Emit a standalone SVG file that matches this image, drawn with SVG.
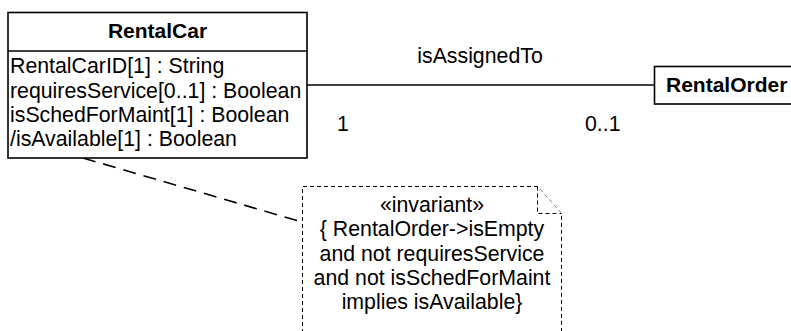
<svg xmlns="http://www.w3.org/2000/svg" width="791" height="331" viewBox="0 0 791 331">
<style>
text{font-family:"Liberation Sans",Arial,sans-serif;font-size:21.3px;fill:#000}
.b{font-weight:bold;font-size:21px}
.box{fill:#fff;stroke:#000;stroke-width:1.6}
.note{fill:#fff;stroke:#000;stroke-width:1;stroke-dasharray:4 3}
.assoc{stroke:#000;stroke-width:1.3;fill:none}
.anchor{stroke:#000;stroke-width:1.6;fill:none;stroke-dasharray:13 8}
</style>
<rect width="791" height="331" fill="#fff"/>
<g id="connectors">
<line class="assoc" x1="307" y1="85" x2="654" y2="85"/>
<line class="anchor" x1="83" y1="158" x2="302" y2="222"/>
<text x="480" y="63" text-anchor="middle">isAssignedTo</text>
<text x="337" y="131">1</text>
<text x="585" y="131">0..1</text>
</g>
<g id="RentalCar">
<rect class="box" x="8" y="12.5" width="299" height="145.5"/>
<line class="box" x1="8" y1="51" x2="307" y2="51"/>
<text class="b" x="157.5" y="38" text-anchor="middle">RentalCar</text>
<text x="10" y="73">RentalCarID[1] : String</text>
<text x="10" y="98">requiresService[0..1] : Boolean</text>
<text x="10" y="122">isSchedForMaint[1] : Boolean</text>
<text x="10" y="146">/isAvailable[1] : Boolean</text>
</g>
<g id="RentalOrder">
<rect class="box" x="654.5" y="66.5" width="150" height="37.5"/>
<text class="b" x="666" y="92">RentalOrder</text>
</g>
<g id="note">
<path class="note" d="M302.5 340 V186.5 H537.5 L561.5 213.5 V340"/>
<path class="note" d="M537.5 186.5 V213.5 H561.5"/>
<text x="432" y="212" text-anchor="middle">«invariant»</text>
<text x="432" y="236" text-anchor="middle">{ RentalOrder-&gt;isEmpty</text>
<text x="432" y="261" text-anchor="middle">and not requiresService</text>
<text x="432" y="285" text-anchor="middle">and not isSchedForMaint</text>
<text x="432" y="309" text-anchor="middle">implies isAvailable}</text>
</g>
</svg>
